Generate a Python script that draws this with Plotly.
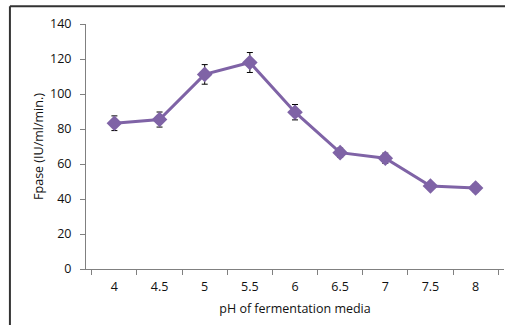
import plotly.graph_objects as go

ph_labels = ["4", "4.5", "5", "5.5", "6", "6.5", "7", "7.5", "8"]
fpase = [83.3, 85.4, 111.2, 118.0, 89.6, 66.5, 63.3, 47.4, 46.3]
errors = [4.2, 4.3, 5.6, 5.7, 4.4, 2.6, 2.9, 2.0, 2.2]

y_ticks = [0, 20, 40, 60, 80, 100, 120, 140]

fig = go.Figure()
fig.add_trace(go.Scatter(
    x=ph_labels, y=fpase,
    mode="lines+markers",
    line=dict(color="#7f63a6", width=3),
    marker=dict(symbol="diamond", size=12, color="#7f63a6"),
    error_y=dict(type="data", array=errors, visible=True,
                 color="#000000", thickness=1, width=3),
    showlegend=False,
))

font_family = "Open Sans, Liberation Sans, sans-serif"
fig.update_layout(
    width=505, height=325,
    margin=dict(l=86, r=1, t=24, b=56),
    paper_bgcolor="white", plot_bgcolor="white",
    font=dict(family=font_family, size=12, color="#111111"),
    xaxis=dict(
        type="category",
        showline=True, linecolor="#808080", linewidth=1,
        ticks="outside", ticklen=5, tickcolor="#808080",
        tickson="boundaries",
        showgrid=False, zeroline=False,
        tickfont=dict(size=12.5),
        ticklabelstandoff=6,
        title=dict(text="pH of fermentation media", font=dict(size=12.5), standoff=10),
    ),
    yaxis=dict(
        range=[0, 140], tickvals=y_ticks,
        showline=True, linecolor="#808080", linewidth=1,
        ticks="outside", ticklen=5, tickcolor="#808080",
        showgrid=False, zeroline=False,
        tickfont=dict(size=12.5),
        ticklabelstandoff=6,
        title=dict(text="Fpase (IU/ml/min.)", font=dict(size=12.5), standoff=3),
    ),
    shapes=[
        dict(type="line", xref="paper", yref="paper",
             x0=-0.182, x1=1.01, y0=1.072, y1=1.072,
             line=dict(color="#333333", width=2)),
        dict(type="line", xref="paper", yref="paper",
             x0=-0.182, x1=-0.182, y0=1.072, y1=-0.3,
             line=dict(color="#333333", width=2)),
    ],
)

fig.write_html("out.html")
